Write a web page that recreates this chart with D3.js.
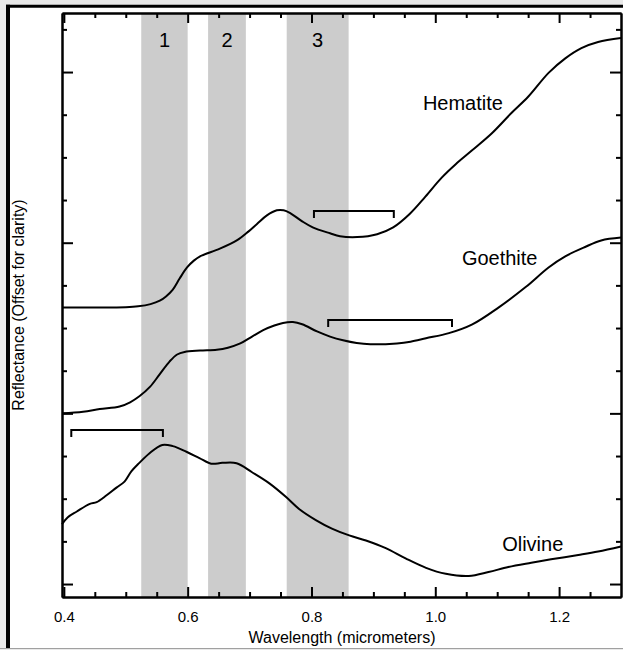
<!DOCTYPE html>
<html>
<head>
<meta charset="utf-8">
<script src="https://cdn.jsdelivr.net/npm/d3@7"></script>
<style>
  html, body { margin: 0; padding: 0; background: #e9e9e9; }
  svg { display: block; font-family: "Liberation Sans", Arial, sans-serif; }
  .axis path, .axis line { stroke: #000; stroke-width: 2px; }
  .axis text { font-size: 15px; fill: #000; font-family: "Liberation Sans", Arial, sans-serif; }
</style>
</head>
<body>
<div id="chart"></div>
<script>
// spectra: [wavelength (micrometers), reflectance (offset)]
const hematite = [
  [0.397, 1.62], [0.45, 1.62], [0.50, 1.622], [0.52, 1.627], [0.54, 1.64], [0.555, 1.66],
  [0.565, 1.685], [0.576, 1.725], [0.587, 1.79], [0.599, 1.855], [0.61, 1.895], [0.62, 1.92],
  [0.652, 1.965], [0.68, 2.015], [0.698, 2.065], [0.712, 2.11], [0.728, 2.16], [0.744, 2.19],
  [0.755, 2.19], [0.765, 2.175], [0.785, 2.125], [0.802, 2.09], [0.83, 2.055], [0.846, 2.038],
  [0.874, 2.033], [0.906, 2.05], [0.932, 2.09], [0.959, 2.17], [0.984, 2.27], [1.01, 2.38],
  [1.033, 2.46], [1.059, 2.54], [1.091, 2.64], [1.123, 2.76], [1.15, 2.855], [1.183, 2.995],
  [1.21, 3.08], [1.236, 3.14], [1.263, 3.176], [1.30, 3.199]
];
const goethite = [
  [0.397, 1.0], [0.431, 1.01], [0.458, 1.025], [0.49, 1.04], [0.507, 1.065], [0.522, 1.1],
  [0.539, 1.155], [0.555, 1.23], [0.571, 1.305], [0.583, 1.345], [0.595, 1.36], [0.62, 1.368],
  [0.647, 1.373], [0.665, 1.385], [0.685, 1.41], [0.704, 1.45], [0.722, 1.488], [0.74, 1.515],
  [0.754, 1.53], [0.77, 1.535], [0.785, 1.522], [0.809, 1.48], [0.83, 1.45], [0.851, 1.428],
  [0.873, 1.412], [0.895, 1.405], [0.938, 1.41], [0.96, 1.42], [0.985, 1.44], [1.022, 1.47],
  [1.059, 1.52], [1.102, 1.62], [1.146, 1.74], [1.183, 1.855], [1.21, 1.92], [1.242, 1.975],
  [1.268, 2.013], [1.30, 2.03]
];
const olivine = [
  [0.397, 0.35], [0.406, 0.39], [0.421, 0.425], [0.442, 0.47], [0.453, 0.48], [0.469, 0.52],
  [0.485, 0.565], [0.498, 0.6], [0.509, 0.66], [0.522, 0.71], [0.538, 0.765], [0.559, 0.815],
  [0.576, 0.808], [0.598, 0.775], [0.619, 0.738], [0.638, 0.705], [0.656, 0.71], [0.679, 0.708],
  [0.704, 0.655], [0.732, 0.59], [0.759, 0.51], [0.78, 0.44], [0.807, 0.375], [0.833, 0.325],
  [0.861, 0.285], [0.888, 0.255], [0.92, 0.21], [0.952, 0.15], [0.985, 0.095], [1.017, 0.06],
  [1.054, 0.047], [1.086, 0.07], [1.118, 0.1], [1.155, 0.125], [1.187, 0.145], [1.231, 0.17],
  [1.263, 0.19], [1.30, 0.22]
];

// absorption bands (wavelength ranges) and their labels
const bandRanges = [[0.525, 0.60], [0.633, 0.694], [0.76, 0.86]];
const bandLabels = ['1', '2', '3'];

// brackets: [start, end, level]
const brackets = [[0.804, 0.933, 2.186], [0.827, 1.027, 1.547], [0.412, 0.56, 0.902]];

// mineral names and where they sit
const mineralNames = ['Hematite', 'Goethite', 'Olivine'];
const namePos = [[0.98, 2.777], [1.043, 1.869], [1.108, 0.193]];

const xMajor = [0.4, 0.6, 0.8, 1.0, 1.2];
const xMinor = d3.range(0.45, 1.3, 0.05).filter(v => xMajor.every(m => Math.abs(m - v) > 1e-6));
const yMajor = [0, 1, 2, 3];
const yMinor = d3.range(0.25, 3.3, 0.25).filter(v => v % 1 !== 0);

const width = 623;
const height = 650;
const plot = {left: 62, right: 621, top: 13, bottom: 597};

const svg = d3.select('#chart')
  .append('svg')
  .attr('width', width)
  .attr('height', height);

// window-ish frame
svg.append('rect').attr('x', 0).attr('y', 0).attr('width', width).attr('height', height).attr('fill', '#e9e9e9');
svg.append('rect').attr('x', 8).attr('y', 6).attr('width', width - 8).attr('height', 642).attr('fill', '#fff');
svg.append('line').attr('x1', 6).attr('x2', width).attr('y1', 6.2).attr('y2', 6.2)
  .attr('stroke', '#000').attr('stroke-width', 3);
svg.append('line').attr('x1', 8).attr('x2', 8).attr('y1', 4.7).attr('y2', 648)
  .attr('stroke', '#000').attr('stroke-width', 4);
svg.append('line').attr('x1', 0).attr('x2', width).attr('y1', 648.5).attr('y2', 648.5)
  .attr('stroke', '#a0a0a0').attr('stroke-width', 1);

const x = d3.scaleLinear().domain([0.397, 1.3]).range([plot.left, plot.right]);
const y = d3.scaleLinear().domain([-0.076, 3.346]).range([plot.bottom, plot.top]);

// grey bands
svg.append('g')
  .selectAll('rect')
  .data(bandRanges)
  .enter()
  .append('rect')
  .attr('x', d => x(d[0]))
  .attr('width', d => x(d[1]) - x(d[0]))
  .attr('y', plot.top)
  .attr('height', plot.bottom - plot.top)
  .attr('fill', '#cccccc');

svg.append('g')
  .selectAll('text')
  .data(bandRanges)
  .enter()
  .append('text')
  .attr('x', d => x((d[0] + d[1]) / 2))
  .attr('y', 47)
  .attr('text-anchor', 'middle')
  .attr('font-size', '20px')
  .text((d, i) => bandLabels[i]);

// axes, ticks pointing in
function addAxis(axisFn, values, size, transform, labels) {
  const axis = axisFn.tickValues(values).tickSizeInner(-size).tickSizeOuter(0)
    .tickPadding(14)
    .tickFormat(labels ? d3.format('.1f') : '');
  svg.append('g')
    .attr('class', 'axis')
    .attr('transform', transform)
    .call(axis);
}
addAxis(d3.axisBottom(x), xMinor, 5, 'translate(0,' + plot.bottom + ')', false);
addAxis(d3.axisBottom(x), xMajor, 10, 'translate(0,' + plot.bottom + ')', true);
addAxis(d3.axisTop(x), xMinor, 5, 'translate(0,' + plot.top + ')', false);
addAxis(d3.axisTop(x), xMajor, 10, 'translate(0,' + plot.top + ')', false);
addAxis(d3.axisLeft(y), yMinor, 5, 'translate(' + plot.left + ',0)', false);
addAxis(d3.axisLeft(y), yMajor, 11, 'translate(' + plot.left + ',0)', false);
addAxis(d3.axisRight(y), yMinor, 5, 'translate(' + plot.right + ',0)', false);
addAxis(d3.axisRight(y), yMajor, 11, 'translate(' + plot.right + ',0)', false);

// spectra
const drawLine = d3.line()
  .x(d => x(d[0]))
  .y(d => y(d[1]))
  .curve(d3.curveCatmullRom.alpha(0.5));

svg.append('g')
  .selectAll('path')
  .data([hematite, goethite, olivine])
  .enter()
  .append('path')
  .attr('d', drawLine)
  .attr('fill', 'none')
  .attr('stroke', '#000')
  .attr('stroke-width', 2);

// brackets
svg.append('g')
  .selectAll('path')
  .data(brackets)
  .enter()
  .append('path')
  .attr('d', d => 'M' + x(d[0]) + ',' + (y(d[2]) + 7) + 'V' + y(d[2]) + 'H' + x(d[1]) + 'V' + (y(d[2]) + 7))
  .attr('fill', 'none')
  .attr('stroke', '#000')
  .attr('stroke-width', 2);

svg.append('g')
  .selectAll('text')
  .data(namePos)
  .enter()
  .append('text')
  .attr('x', d => x(d[0]))
  .attr('y', d => y(d[1]))
  .attr('font-size', '20px')
  .text((d, i) => mineralNames[i]);

// axis titles
svg.append('text')
  .attr('x', 342)
  .attr('y', 643)
  .attr('text-anchor', 'middle')
  .attr('font-size', '16px')
  .text('Wavelength (micrometers)');

svg.append('text')
  .attr('transform', 'translate(24,305) rotate(-90)')
  .attr('text-anchor', 'middle')
  .attr('font-size', '16px')
  .text('Reflectance (Offset for clarity)');
</script>
</body>
</html>
